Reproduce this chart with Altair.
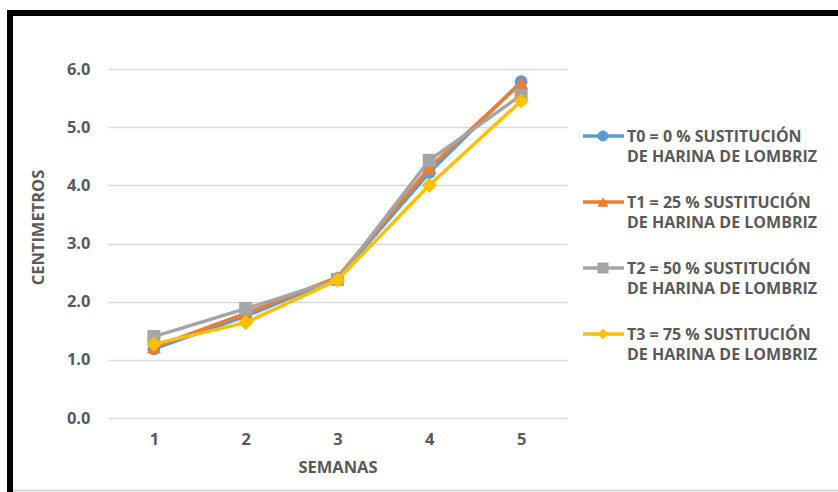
import altair as alt
import pandas as pd

# Weekly length (cm) for each treatment
semanas = [1, 2, 3, 4, 5]
t0 = [1.19, 1.75, 2.40, 4.22, 5.78]
t1 = [1.22, 1.80, 2.42, 4.30, 5.76]
t2 = [1.40, 1.88, 2.38, 4.43, 5.55]
t3 = [1.27, 1.64, 2.37, 4.00, 5.45]

series = ["T0", "T1", "T2", "T3"]
label_line1 = [
    "T0 = 0 % SUSTITUCIÓN",
    "T1 = 25 % SUSTITUCIÓN",
    "T2 = 50 % SUSTITUCIÓN",
    "T3 = 75 % SUSTITUCIÓN",
]
label_line2 = ["DE HARINA DE LOMBRIZ"] * 4
colors = ["#5B9BD5", "#ED7D31", "#A5A5A5", "#FFC000"]
shapes = ["circle", "triangle-up", "square", "diamond"]
sizes = [165, 200, 170, 230]

values = {"T0": t0, "T1": t1, "T2": t2, "T3": t3}
rows = []
for s in series:
    for w, v in zip(semanas, values[s]):
        rows.append({"semana": w, "cm": v, "serie": s})
df = pd.DataFrame(rows)

FONT = "Open Sans"
TXT = "#595959"
W, H = 459, 349

x_enc = alt.X(
    "semana:O",
    scale=alt.Scale(type="point", padding=0.5),
    axis=alt.Axis(
        title="SEMANAS", labelAngle=0, domain=False, ticks=False,
        labelPadding=13, titlePadding=12,
    ),
)
y_enc = alt.Y(
    "cm:Q",
    scale=alt.Scale(domain=[0, 6], nice=False),
    axis=alt.Axis(
        title="CENTIMETROS", values=[0, 1, 2, 3, 4, 5, 6], format=".1f",
        domain=False, ticks=False, labelPadding=18, titlePadding=20, titleY=158,
        grid=True, gridColor="#D9D9D9", gridWidth=1.3,
    ),
)

layers = []
for i, s in enumerate(series):
    base = alt.Chart(df).transform_filter(alt.datum.serie == s)
    layers.append(
        base.mark_line(color=colors[i], strokeWidth=3.5).encode(x=x_enc, y=y_enc)
    )
    layers.append(
        base.mark_point(
            shape=shapes[i], size=sizes[i], filled=True, opacity=1, color=colors[i]
        ).encode(x=x_enc, y=y_enc)
    )
data_layer = alt.layer(*layers)

# Legend built from the series table, placed to the right of the plot
leg = pd.DataFrame({"serie": series, "l1": label_line1, "l2": label_line2})
leg_y = alt.Y(
    "serie:N",
    scale=alt.Scale(type="point", domain=series, range=[67, 265], padding=0),
    axis=None,
)
col_enc = alt.Color("serie:N", scale=alt.Scale(domain=series, range=colors), legend=None)
shape_enc = alt.Shape("serie:N", scale=alt.Scale(domain=series, range=shapes), legend=None)
leg_base = alt.Chart(leg)
leg_lines = leg_base.mark_rule(strokeWidth=3.5).encode(
    x=alt.value(475), x2=alt.value(516), y=leg_y, color=col_enc
)
leg_pts = leg_base.mark_point(filled=True, opacity=1, size=120).encode(
    x=alt.value(495), y=leg_y, color=col_enc, shape=shape_enc
)
leg_t1 = leg_base.mark_text(
    align="left", baseline="middle", font=FONT, fontSize=16, fontWeight="bold",
    color=TXT, dy=1,
).encode(x=alt.value(519), y=leg_y, text="l1:N")
leg_t2 = leg_base.mark_text(
    align="left", baseline="middle", font=FONT, fontSize=16, fontWeight="bold",
    color=TXT, dy=21,
).encode(x=alt.value(519), y=leg_y, text="l2:N")
legend_layer = alt.layer(leg_lines, leg_pts, leg_t1, leg_t2)

# Outer frame
frame_df = pd.DataFrame({"k": [0]})
frame_top = alt.Chart(frame_df).mark_rule(color="#000000", strokeWidth=6).encode(
    x=alt.value(-101), x2=alt.value(735), y=alt.value(-56)
)
frame_left = alt.Chart(frame_df).mark_rule(color="#000000", strokeWidth=6).encode(
    x=alt.value(-98), y=alt.value(-59), y2=alt.value(430)
)
frame_bottom = alt.Chart(frame_df).mark_rule(color="#D0D0D0", strokeWidth=1.5).encode(
    x=alt.value(-95), x2=alt.value(735), y=alt.value(421.5)
)
frame = alt.layer(frame_top, frame_left, frame_bottom)

chart = (
    alt.layer(data_layer, legend_layer, frame)
    .resolve_scale(y="independent", color="independent", shape="independent")
    .properties(
        width=W, height=H,
        autosize=alt.AutoSizeParams(type="none"),
        padding={"left": 108, "top": 69, "right": 271, "bottom": 74},
        background="#FFFFFF",
    )
    .configure_view(stroke=None)
    .configure_axis(
        labelFont=FONT, labelFontSize=16.5, labelFontWeight="bold", labelColor=TXT,
        titleFont=FONT, titleFontSize=16.5, titleFontWeight="bold", titleColor=TXT,
    )
)

chart.save("out.html", embed_options={"renderer": "svg", "actions": False})
